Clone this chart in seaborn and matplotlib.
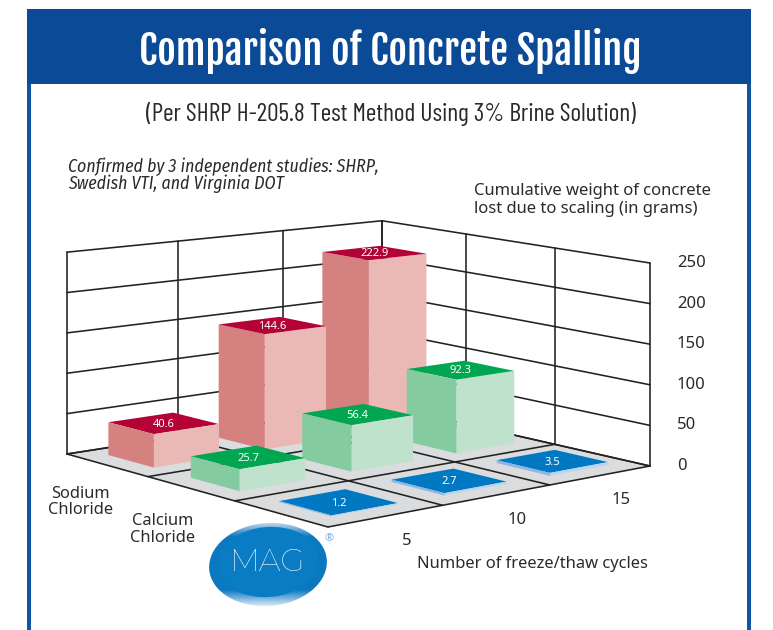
import numpy as np
import matplotlib
matplotlib.use("Agg")
import matplotlib.pyplot as plt
import seaborn as sns
from matplotlib.patches import Ellipse, Rectangle
from matplotlib.colors import LinearSegmentedColormap
from mpl_toolkits.mplot3d.art3d import Poly3DCollection, Line3DCollection

# ---- data -------------------------------------------------------------
cycles = [5, 10, 15]
materials = ["Sodium\nChloride", "Calcium\nChloride", "MAG"]
sodium_chloride = [40.6, 144.6, 222.9]
calcium_chloride = [25.7, 56.4, 92.3]
mag = [1.2, 2.7, 3.5]
z_ticks = [0, 50, 100, 150, 200, 250]

title = "Comparison of Concrete Spalling"
subtitle = "(Per SHRP H-205.8 Test Method Using 3% Brine Solution)"
note_lines = ["Confirmed by 3 independent studies: SHRP,", "Swedish VTI, and Virginia DOT"]
z_label_lines = ["Cumulative weight of concrete", "lost due to scaling (in grams)"]
x_label = "Number of freeze/thaw cycles"

# face colours: top, left, right
red = ("#B40237", "#D5817F", "#EBB9B5")
green = ("#00A750", "#84CC9F", "#BFE2CC")
blue = ("#0079C2", "#8DB5E2", "#BCD4EF")
series = [(sodium_chloride, red, 2), (calcium_chloride, green, 1), (mag, blue, 0)]

W, H = 773, 630
sns.set_theme(style="white")
SANS = ["Noto Sans", "DejaVu Sans"]
DARK = "#2a2a2a"

fig = plt.figure(figsize=(W / 100, H / 100), dpi=100, facecolor="white")

# ---- page furniture, in pixel coordinates -----------------------------
bg = fig.add_axes([0, 0, 1, 1], zorder=0)
bg.axis("off")
NAVY = "#0B4A96"
bg.add_patch(Rectangle((27, 9), 724, 75, color=NAVY, lw=0))
bg.add_patch(Rectangle((27, 84), 4, 546, color="#0F56A2", lw=0))
bg.add_patch(Rectangle((747, 84), 4, 546, color="#0F56A2", lw=0))

# logo
cmap = LinearSegmentedColormap.from_list(
    "rim", [(0, "#C9DBF1"), (0.17, "#0B78C0"), (0.8, "#0B78C0"), (1, "#E8F0FA")])
img = bg.imshow(np.linspace(0, 1, 200)[:, None], cmap=cmap, aspect="auto",
                extent=(205, 331, 607, 522), zorder=2)
rim = Ellipse((268, 564.5), 118, 83, angle=-5, transform=bg.transData, fc="none", lw=0)
bg.add_patch(rim)
img.set_clip_path(rim)
bg.add_patch(Ellipse((268, 562), 102, 70, angle=-5, fc="#0A7CC4", lw=0, zorder=3))
bg.set_xlim(0, W)
bg.set_ylim(H, 0)

# ---- 3-D chart --------------------------------------------------------
ax = fig.add_axes([-0.2, -0.2, 1.4, 1.4], projection="3d", zorder=1, computed_zorder=False)
ax.patch.set_visible(False)
ax.set_axis_off()
ax.set_xlim(0, 3)
ax.set_ylim(0, 3)
ax.set_zlim(0, 250)

# Projective camera: pinned by where the floor corners and wall tops fall.
floor_world = [(0, 0), (3, 0), (0, 3), (3, 3)]
floor_pixel = [(328, 527), (650, 466), (67, 454), (382, 405)]
wall_height_pixel = [((0, 3), 200), ((3, 3), 185), ((3, 0), 204)]

A, b = [], []
for (x, y), (u, v) in zip(floor_world, floor_pixel):
    A.append([x, y, 1, 0, 0, 0, -u * x, -u * y]); b.append(u)
    A.append([0, 0, 0, x, y, 1, -v * x, -v * y]); b.append(v)
h = np.linalg.solve(np.array(A, float), np.array(b, float))
w_row = np.array([h[6], h[7], 0.0, 1.0])
lift = np.mean([hp * (w_row[0] * p[0] + w_row[1] * p[1] + 1) / z_ticks[-1] for p, hp in wall_height_pixel])
u_row = np.array([h[0], h[1], 0.0, h[2]])
v_row = np.array([h[3], h[4], -lift, h[5]])


def pixel_of(x, y, z):
    vec = np.array([x, y, z, 1.0])
    return (u_row @ vec) / (w_row @ vec), (v_row @ vec) / (w_row @ vec)


def pinned_projection():
    inv = ax.transData.inverted()
    (x0, y0), (x1, y1) = inv.transform([(0, H), (W, 0)])
    sx, sy = (x1 - x0) / W, (y1 - y0) / H
    return np.array([
        x0 * w_row + sx * u_row,
        y0 * w_row + sy * v_row,
        [0.3, 0.2, -0.001, 1.0],
        w_row,
    ])


ax.get_proj = pinned_projection

# floor
ax.add_collection3d(Poly3DCollection(
    [[(0, 0, 0), (3, 0, 0), (3, 3, 0), (0, 3, 0)]], facecolors="#DADCDE", edgecolors="none", zorder=1))

# grid
segments = []
for t in range(4):
    segments.append([(t, 0, 0), (t, 3, 0)])
    segments.append([(0, t, 0), (3, t, 0)])
    segments.append([(t, 3, 0), (t, 3, z_ticks[-1])])
    segments.append([(3, t, 0), (3, t, z_ticks[-1])])
for z in z_ticks:
    segments.append([(0, 3, z), (3, 3, z)])
    segments.append([(3, 3, z), (3, 0, z)])
ax.add_collection3d(Line3DCollection(segments, colors="#222222", linewidths=1.15,
                                     capstyle="round", zorder=2))

# bars: back row first, far cycle count first within the row
HALF_X, HALF_Y = 0.29, 0.28
NONE = (0, 0, 0, 0)
order = 10
for values, (top, left, right), row in series:
    for i in reversed(range(len(values))):
        xc, yc = i + 0.5, row + 0.5
        order += 1
        # faces: -Z, +Z, -Y, +Y, -X, +X
        ax.bar3d(xc - HALF_X, yc - HALF_Y, 0, 2 * HALF_X, 2 * HALF_Y, values[i],
                 color=[NONE, top, right, NONE, left, NONE], shade=False,
                 edgecolor="none", linewidth=0, zorder=order)

# ---- all text, on a pixel overlay, placed through the same camera -----
fg = fig.add_axes([0, 0, 1, 1], zorder=2)
fg.patch.set_visible(False)
fg.axis("off")
fg.set_xlim(0, W)
fg.set_ylim(H, 0)

fg.text(390, 50.5, title, color="white", fontsize=28.9, family=["Fjalla One", "Liberation Sans"],
        ha="center", va="center")
fg.text(391, 114.5, subtitle, color=DARK, fontsize=18.4, family=["Barlow Condensed", "Liberation Sans"],
        ha="center", va="center")
for line, y in zip(note_lines, [167, 184]):
    fg.text(68, y, line, color=DARK, fontsize=12.8, style="italic",
            family=["Fira Sans Condensed", "Liberation Sans"], ha="left", va="center")
for line, y in zip(z_label_lines, [191, 209]):
    fg.text(474, y, line, color=DARK, fontsize=11.95, family=SANS, ha="left", va="center")
fg.text(417, 564, x_label, color=DARK, fontsize=11.9, family=SANS, ha="left", va="center")
fg.text(268, 563, materials[2], color="white", fontsize=22.5, fontweight=400,
        family=["Montserrat", "Noto Sans"], ha="center", va="center")
fg.text(329, 539, "\u00ae", color="#7FB2E0", fontsize=8, family=SANS, ha="center", va="center")

for values, _, row in series:
    for i, v in enumerate(values):
        px, py = pixel_of(i + 0.5, row + 0.5, v)
        fg.text(px, py + 1, f"{v}", color="white", fontsize=8, family=SANS, ha="center", va="center")

for z in z_ticks:
    px, py = pixel_of(3, 0, z)
    fg.text(px + 27, py, str(z), color=DARK, fontsize=12, family=SANS, ha="left", va="center")
for i, c in enumerate(cycles):
    px, py = pixel_of(i + 0.5, 0, 0)
    fg.text(px + 20, py + 25, str(c), color=DARK, fontsize=12, family=SANS, ha="center", va="center")
for name, row, (dx, dy) in zip(materials[:2], [2, 1], [(-26, 37), (-28, 41)]):
    px, py = pixel_of(0, row + 0.5, 0)
    fg.text(px + dx, py + dy, name, color=DARK, fontsize=11.8, family=SANS, ha="center", va="center",
            linespacing=1.05)

fig.savefig("out.png", dpi=100, facecolor="white")
